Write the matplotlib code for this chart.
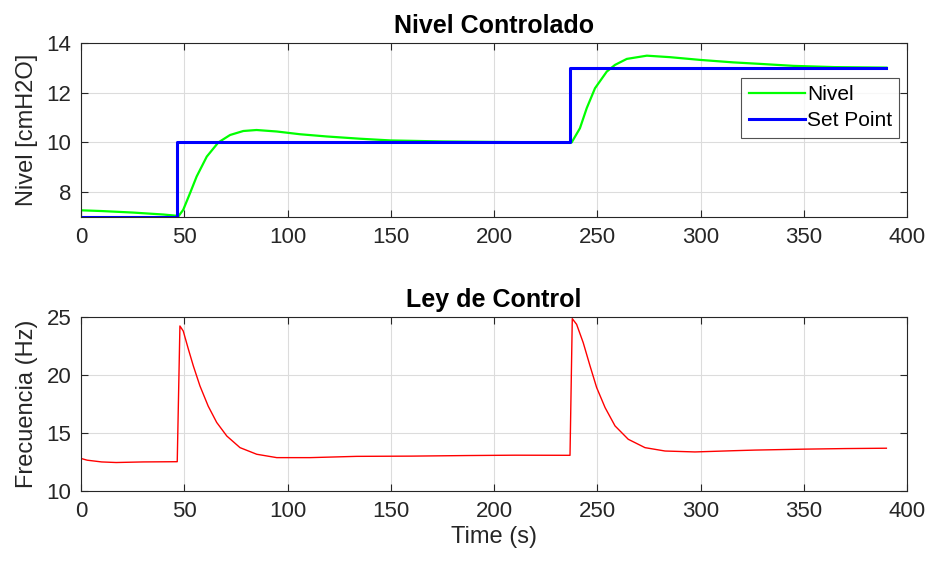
import matplotlib
matplotlib.use("Agg")
import matplotlib.pyplot as plt

# nivel controlado
nivel_t = [0, 10, 25, 40, 46.3, 47.1, 49.5, 52.8, 56, 60.9, 66.5, 72.2, 78.6, 85, 94.8, 106, 119,
           135, 150, 175, 200, 236.7, 237.6, 241.6, 244.9, 248.9, 254.6, 258.6, 264.3, 274, 285.2,
           299.8, 315.9, 328.8, 345, 365, 390]
nivel_v = [7.27, 7.24, 7.18, 7.1, 7.05, 7.02, 7.29, 7.96, 8.63, 9.43, 10.0, 10.3, 10.46, 10.5, 10.44,
           10.33, 10.24, 10.15, 10.08, 10.04, 10.02, 10.0, 10.0, 10.57, 11.38, 12.18, 12.85, 13.12,
           13.36, 13.49, 13.43, 13.32, 13.22, 13.16, 13.08, 13.03, 13.01]

sp_t = [0, 46.3, 46.3, 236.7, 236.7, 390]
sp_v = [7, 7, 10, 10, 13, 13]

# ley de control
freq_t = [0, 3, 10, 17, 30, 46.6, 47.9, 49.5, 52, 54.4, 57.6, 61.6, 65.7, 70.6, 77, 85.1, 94.8,
          110.9, 133.5, 160, 187, 210, 236.8, 237.9, 240, 243.2, 246.5, 249.7, 253.8, 258.6, 265,
          273.1, 282.8, 297.3, 316.7, 326.4, 350, 370, 390]
freq_v = [12.8, 12.65, 12.5, 12.45, 12.5, 12.52, 24.2, 23.77, 22.2, 20.76, 19.04, 17.3, 15.9, 14.73,
          13.73, 13.16, 12.87, 12.87, 12.98, 13.0, 13.05, 13.08, 13.07, 24.83, 24.34, 22.76, 20.76,
          18.9, 17.17, 15.6, 14.45, 13.73, 13.44, 13.36, 13.47, 13.52, 13.6, 13.65, 13.68]

plt.rcParams["font.family"] = ["Liberation Sans", "DejaVu Sans"]
dark = "#262626"

fig = plt.figure(figsize=(9.3, 5.65), dpi=100)
ax1 = fig.add_axes([0.0871, 0.6159, 0.8882, 0.308])
ax2 = fig.add_axes([0.0871, 0.1310, 0.8882, 0.3085])

def style(ax):
    ax.grid(True, color="#dcdcdc", linewidth=0.8)
    ax.set_axisbelow(True)
    ax.tick_params(direction="in", top=True, right=True, length=5, width=0.8,
                   colors=dark, labelsize=16, pad=7)
    for s in ax.spines.values():
        s.set_color(dark)
        s.set_linewidth(0.8)
    ax.set_xlim(0, 400)
    ax.set_xticks([0, 50, 100, 150, 200, 250, 300, 350, 400])

ax1.plot(nivel_t, nivel_v, color="#00ff00", lw=1.6, label="Nivel")
ax1.plot(sp_t, sp_v, color="#0000ff", lw=2.2, label="Set Point")
style(ax1)
ax1.set_ylim(7, 14)
ax1.set_yticks([8, 10, 12, 14])
ax1.set_title("Nivel Controlado", fontsize=18, fontweight="bold", pad=7)
ax1.set_ylabel("Nivel [cmH2O]", fontsize=17, color=dark, labelpad=6)
leg = ax1.legend(loc="upper right", bbox_to_anchor=(0.9907, 0.801), borderaxespad=0,
                 fontsize=15, frameon=True, fancybox=False, handlelength=2.7,
                 handletextpad=0.1, borderpad=0.35, labelspacing=0.35)
leg.get_frame().set_edgecolor(dark)
leg.get_frame().set_linewidth(0.8)

ax2.plot(freq_t, freq_v, color="#ff0000", lw=1.0)
style(ax2)
ax2.set_ylim(10, 25)
ax2.set_yticks([10, 15, 20, 25])
ax2.set_title("Ley de Control", fontsize=18, fontweight="bold", pad=7)
ax2.set_ylabel("Frecuencia (Hz)", fontsize=17, color=dark, labelpad=6)
ax2.set_xlabel("Time (s)", fontsize=17, color=dark, labelpad=3)

fig.savefig("out.png", dpi=100)
